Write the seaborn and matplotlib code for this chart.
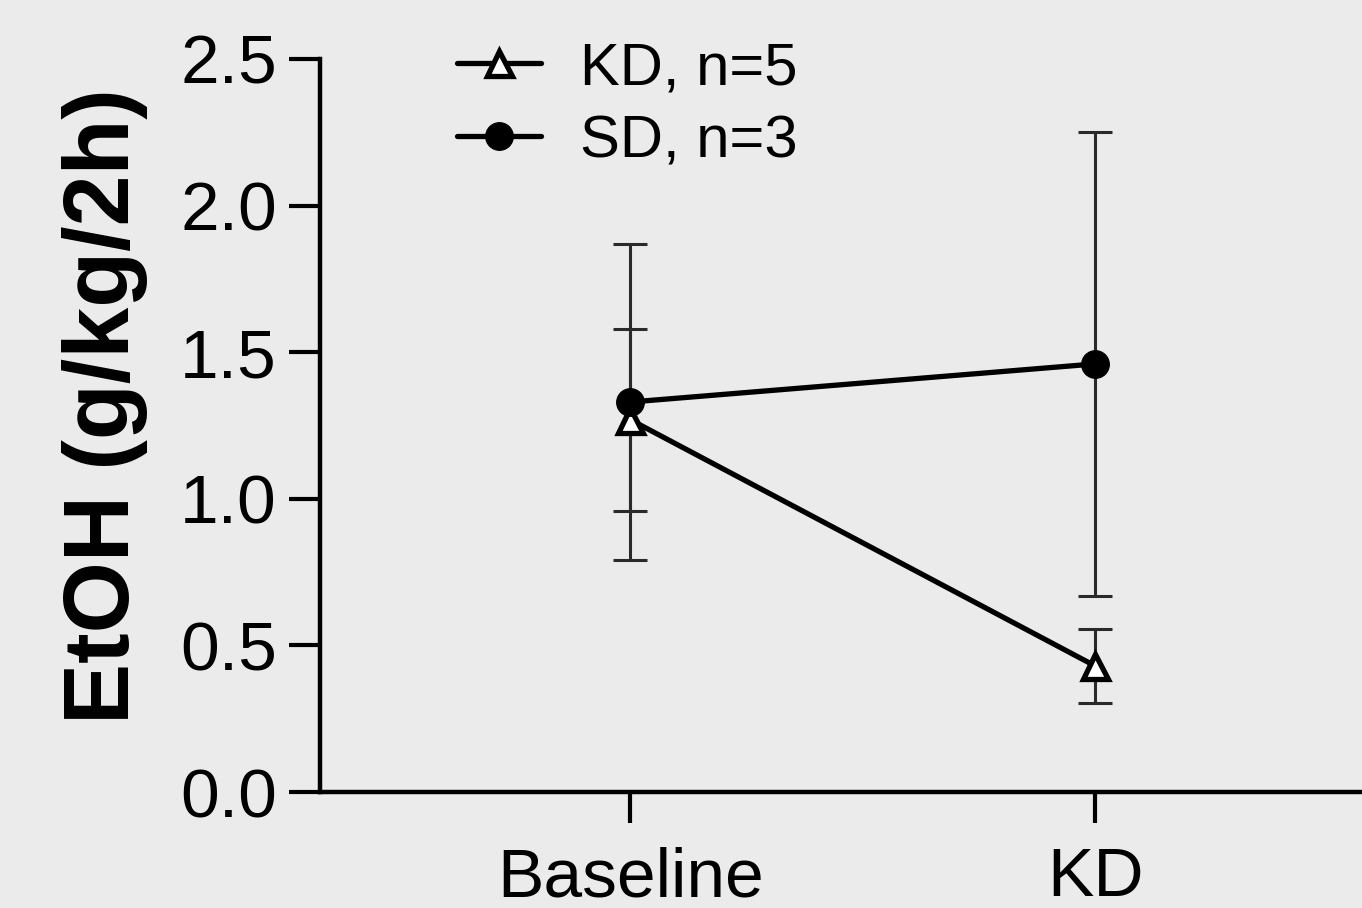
import numpy as np
import pandas as pd
import seaborn as sns
import matplotlib.pyplot as plt

# データ (平均 ± 誤差)
conditions = ['Baseline', 'KD']
kd_mean = [1.27, 0.43]
kd_err = [0.31, 0.125]
sd_mean = [1.33, 1.46]
sd_err = [0.54, 0.79]
group_labels = ['KD, n=5', 'SD, n=3']

df = pd.DataFrame({
    'condition': conditions * 2,
    'x': [0, 1] * 2,
    'mean': kd_mean + sd_mean,
    'err': kd_err + sd_err,
    'group': [group_labels[0]] * 2 + [group_labels[1]] * 2,
})

bg = '#ebebeb'
sns.set_style('ticks', {'axes.facecolor': bg, 'figure.facecolor': bg,
                        'text.color': 'black', 'axes.labelcolor': 'black',
                        'xtick.color': 'black', 'ytick.color': 'black'})
plt.rcParams['font.family'] = ['Liberation Sans', 'DejaVu Sans']

fig = plt.figure(figsize=(13.62, 9.08), dpi=100)
ax = fig.add_axes([320 / 1362, 116 / 908, 1042 / 1362, 733 / 908])

# 折れ線 + マーカー
sns.lineplot(data=df, x='x', y='mean', hue='group', style='group',
             markers={group_labels[0]: '^', group_labels[1]: 'o'},
             dashes=False, palette=['black', 'black'], linewidth=3.8,
             markersize=20, ax=ax, legend=False, zorder=3)
lines = list(ax.get_lines())
lines[0].set_markerfacecolor('white')
lines[0].set_markeredgecolor('black')
lines[0].set_markeredgewidth(3.8)
lines[0].set_markersize(18)
lines[1].set_markerfacecolor('black')
lines[1].set_markeredgecolor('black')

# 誤差棒
for g in group_labels:
    d = df[df['group'] == g]
    ax.errorbar(d['x'], d['mean'], yerr=d['err'], fmt='none',
                ecolor='#2a2a2a', elinewidth=2.2, capsize=12, capthick=2.2, zorder=2)

ax.legend(lines, group_labels, loc='upper left', bbox_to_anchor=(0.109, 1.057),
          frameon=False, fontsize=43, handlelength=1.4, handletextpad=0.65,
          labelspacing=0.3, borderaxespad=0)

ax.set_xlim(-0.667, 1.574)
ax.set_ylim(0, 2.5)
ax.set_xticks([0, 1])
ax.set_xticklabels(conditions)
ax.set_yticks([0, 0.5, 1.0, 1.5, 2.0, 2.5])
ax.set_yticklabels(['0.0', '0.5', '1.0', '1.5', '2.0', '2.5'])
ax.set_xlabel('')
ax.set_ylabel('EtOH (g/kg/2h)', fontsize=66, fontweight='bold')
ax.yaxis.set_label_coords(-0.165, 0.527)
ax.tick_params(axis='both', labelsize=50, length=22, width=3, color='black')
ax.tick_params(axis='y', pad=9)
ax.tick_params(axis='x', pad=17)

sns.despine(ax=ax)
for s in ['left', 'bottom']:
    ax.spines[s].set_linewidth(3.2)
    ax.spines[s].set_color('black')

fig.savefig('out.png', dpi=100, facecolor=bg)
